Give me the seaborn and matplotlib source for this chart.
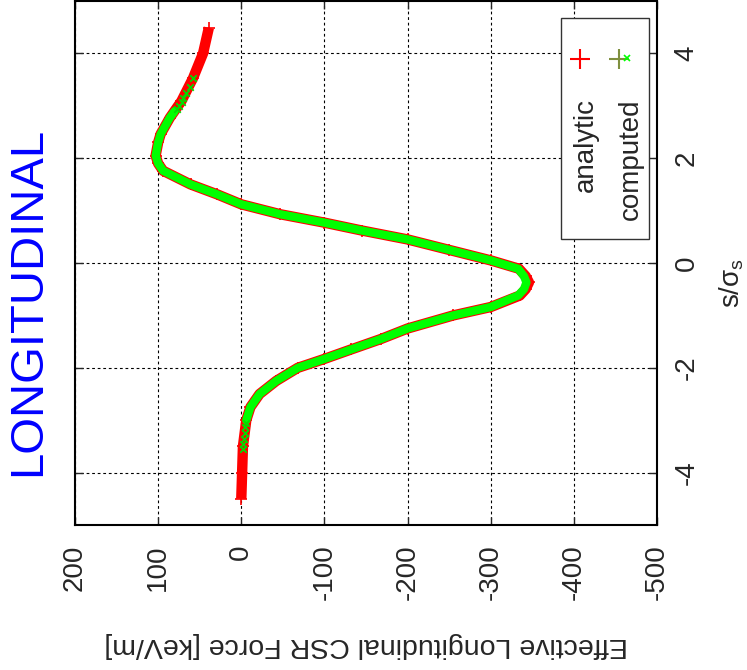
import seaborn as sns
import matplotlib.pyplot as plt
from matplotlib.patches import Rectangle

# analytic curve (s in sigma_s, force in keV/m)
analytic_s = [-4.5, -4.0, -3.5, -3.0, -2.75, -2.5, -2.25, -2.0, -1.83, -1.65,
              -1.45, -1.25, -1.0, -0.84, -0.62, -0.5, -0.37, -0.25, -0.11, 0.05,
              0.25, 0.45, 0.62, 0.77, 0.93, 1.12, 1.31, 1.5, 1.76, 1.9,
              2.05, 2.3, 2.46, 2.77, 3.09, 3.53, 4.0, 4.49]
analytic_F = [0, -1, -2, -6, -11, -22, -42, -68, -100, -132,
              -168, -200, -255, -300, -335, -342, -346, -342, -334, -300,
              -250, -200, -145, -100, -47, 0, 29, 61, 94, 100,
              103, 100, 97, 86, 72, 58, 46, 39]

# computed (tracked) points, dense core drawn as a band
computed_s = [-3.0, -2.75, -2.5, -2.25, -2.0, -1.83, -1.65, -1.45, -1.25, -1.0,
              -0.84, -0.62, -0.5, -0.37, -0.25, -0.11, 0.05, 0.25, 0.45, 0.62,
              0.77, 0.93, 1.12, 1.31, 1.5, 1.76, 1.9, 2.05, 2.3, 2.46,
              2.77, 2.9]
computed_F = [-6, -11, -22, -42, -68, -100, -132, -168, -200, -255,
              -300, -333, -340, -343, -340, -333, -300, -250, -200, -145,
              -100, -47, 0, 29, 61, 94, 100, 103, 100, 97,
              86, 80]
# sparse computed points in the tails
tail_s = [-3.55, -3.45, -3.35, -3.25, -3.13, -3.05,
          2.93, 3.0, 3.08, 3.15, 3.25, 3.36, 3.53]
tail_F = [-2, -2.5, -3, -4, -5, -5.5,
          77, 74.5, 71.5, 69.5, 66, 62, 58]

force_ticks = [200, 100, 0, -100, -200, -300, -400, -500]
s_ticks = [-4, -2, 0, 2, 4]

sns.set_style('white')
plt.rcParams['font.family'] = ['Liberation Sans', 'DejaVu Sans']
plt.rcParams['mathtext.fontset'] = 'custom'
plt.rcParams['mathtext.rm'] = 'Liberation Sans'
plt.rcParams['mathtext.it'] = 'Liberation Sans:italic'
plt.rcParams['axes.unicode_minus'] = False

fig = plt.figure(figsize=(7.47, 6.70), dpi=100)
ax = fig.add_axes([0.1004, 0.2164, 0.7791, 0.7821])

# analytic (red +) and computed (green x)
sns.lineplot(x=analytic_F, y=analytic_s, sort=False, estimator=None, ax=ax,
             color='#ff0000', lw=7.5, marker='+', markersize=9, mew=1.2,
             mec='#ff0000', solid_capstyle='butt', legend=False)
sns.lineplot(x=computed_F, y=computed_s, sort=False, estimator=None, ax=ax,
             color='#00ff00', lw=6, solid_capstyle='round', legend=False)
sns.scatterplot(x=tail_F, y=tail_s, ax=ax, marker='x', color='#00dd00',
                s=22, linewidth=1.3, legend=False, zorder=5)

ax.set_xlim(200, -500)
ax.set_ylim(-5, 5)
ax.set_xticks(force_ticks)
ax.set_yticks(s_ticks)
ax.grid(True, color='black', lw=0.8, linestyle=(0, (2.5, 2.5)))
ax.set_axisbelow(True)
for sp in ax.spines.values():
    sp.set_color('black')
    sp.set_linewidth(1.5)

ax.tick_params(direction='in', length=6, width=1, top=True, bottom=True,
               left=True, right=True, labelleft=False, labelright=True,
               labelsize=20)
ax.tick_params(axis='x', labelrotation=90, pad=14)
ax.tick_params(axis='y', labelrotation=90, pad=12)
for t in ax.yaxis.get_major_ticks():
    t.label2.set_va('center')
    t.label2.set_ha('left')

ax.set_xlabel('Effective Longitudinal CSR Force [keV/m]', fontsize=20.5,
              rotation=180, va='center', ha='center')
ax.xaxis.set_label_coords(0.5, -0.2286)
ax.yaxis.set_label_position('right')
ax.set_ylabel(r'$\mathrm{s/\sigma_s}$', fontsize=20, rotation=90,
              va='center', ha='center')
ax.yaxis.set_label_coords(1.128, 0.461)

fig.text(0.0375, 0.5507, 'LONGITUDINAL', color='#0000ff', fontsize=34,
         rotation=90, ha='center', va='center')

# rotated key box
ax.add_patch(Rectangle((0.835, 0.5467), 0.151, 0.421, transform=ax.transAxes,
                       facecolor='white', edgecolor='#333333', lw=1, zorder=6))
ax.text(0.878, 0.815, 'analytic', transform=ax.transAxes, rotation=90,
        fontsize=20, ha='center', va='top', zorder=7)
ax.text(0.955, 0.813, 'computed', transform=ax.transAxes, rotation=90,
        fontsize=20, ha='center', va='top', zorder=7)
ax.plot([0.8677], [0.8895], transform=ax.transAxes, marker='+', color='#ff0000',
        markersize=14, mew=1.5, zorder=7)
ax.plot([0.9347], [0.8895], transform=ax.transAxes, marker='+', color='#7f8f3f',
        markersize=14, mew=1.5, zorder=7)
ax.plot([0.9485], [0.891], transform=ax.transAxes, marker='x', color='#00ff00',
        markersize=4, mew=1.2, zorder=8)

fig.savefig('out.png', dpi=100)
